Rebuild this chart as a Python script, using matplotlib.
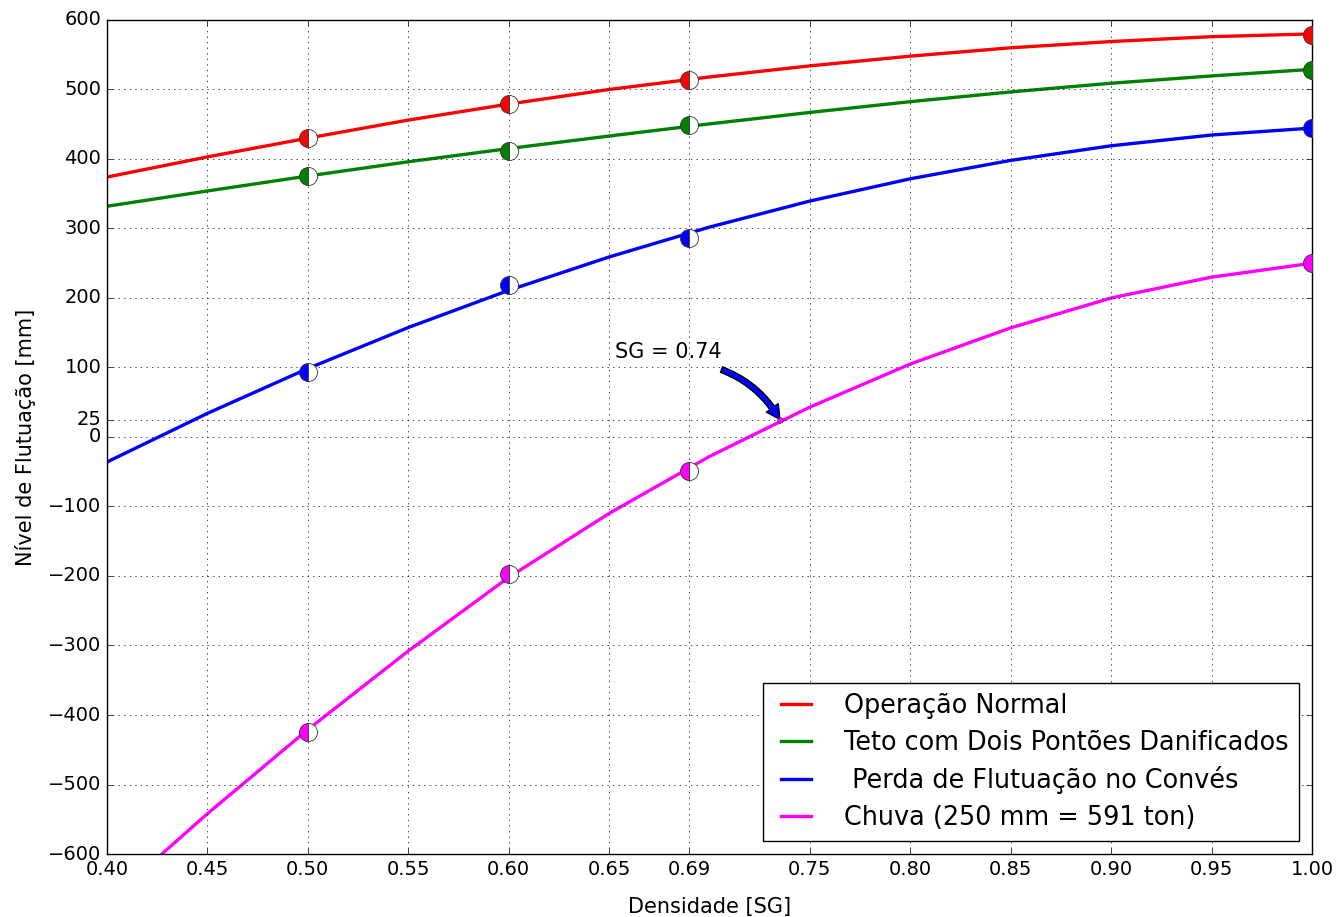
import matplotlib
matplotlib.use('Agg')
import matplotlib.pyplot as plt

# pontos calculados
sg = [0.50, 0.60, 0.69, 1.00]
normal = [430, 479, 513, 579]
dois_pontoes = [376, 412, 449, 528]
perda_conves = [93, 219, 287, 444]
chuva = [-424, -197, -49, 250]

# curvas ajustadas
sg_curva = [0.40, 0.45, 0.50, 0.55, 0.60, 0.65, 0.70, 0.75, 0.80, 0.85, 0.90, 0.95, 1.00]
normal_curva = [374, 403, 430, 456, 479, 500, 518, 534, 548, 560, 569, 576, 580]
dois_pontoes_curva = [332, 354, 375.5, 396, 415, 433, 450.5, 467, 482.5, 496.5, 509, 519.5, 529]
perda_conves_curva = [-36, 34, 98.5, 157.5, 211, 259, 302, 339.5, 371.5, 398, 419, 434.5, 444.5]
chuva_curva = [-670, -542, -421, -308, -202, -110, -28, 43, 105, 157, 200, 230, 250]

# ponto SG = 0.74
sg_zero = 0.735
nivel_zero = 25

legendas = ['Operação Normal', 'Teto com Dois Pontões Danificados',
            ' Perda de Flutuação no Convés', 'Chuva (250 mm = 591 ton)']
cores = ['r', 'g', 'b', '#ff00ff']

xticks = [0.40, 0.45, 0.50, 0.55, 0.60, 0.65, 0.69, 0.75, 0.80, 0.85, 0.90, 0.95, 1.00]
yticks = [-600, -500, -400, -300, -200, -100, 0, 25, 100, 200, 300, 400, 500, 600]

plt.style.use('classic')
plt.rcParams['figure.facecolor'] = 'white'
plt.rcParams['savefig.facecolor'] = 'white'

fig = plt.figure(figsize=(13.39, 9.17), dpi=100)
ax = fig.add_subplot(111)
fig.subplots_adjust(left=0.0799, right=0.9798, top=0.9782, bottom=0.0687)

pontos = [normal, dois_pontoes, perda_conves, chuva]
curvas = [normal_curva, dois_pontoes_curva, perda_conves_curva, chuva_curva]

for curva, cor, nome in zip(curvas, cores, legendas):
    ax.plot(sg_curva, curva, color=cor, lw=2.4, label=nome, zorder=2,
            solid_joinstyle='round')

for p, cor in zip(pontos, cores):
    ax.plot(sg, p, 'o', color=cor, fillstyle='left', markerfacecoloralt='white',
            markeredgecolor='#333333', markeredgewidth=0.6, markersize=13, zorder=3)

ax.plot([sg_zero], [nivel_zero], 'o', color='#ff00ff', markersize=4,
        markeredgecolor='#444444', markeredgewidth=0.5, zorder=4)

ax.text(0.653, 113, 'SG = 0.74', fontsize=15)
ax.annotate('', xy=(sg_zero, nivel_zero), xytext=(0.706, 97),
            arrowprops=dict(facecolor='blue', edgecolor='black', width=4.2,
                            headwidth=10.5, headlength=10, shrink=0.0,
                            connectionstyle='arc3,rad=-0.18'))

ax.set_xlim(0.40, 1.00)
ax.set_ylim(-600, 600)
ax.set_xticks(xticks)
ax.set_xticklabels(['%.2f' % t for t in xticks])
ax.set_yticks(yticks)
ax.tick_params(labelsize=14)
ax.grid(True)

ax.set_xlabel('Densidade [SG]', fontsize=15, labelpad=13)
ax.set_ylabel('Nível de Flutuação [mm]', fontsize=15, labelpad=9)

ax.legend(loc='lower right', fontsize=18.4, handlelength=1.8, handletextpad=1.0,
          labelspacing=0.42)

fig.savefig('out.png', dpi=100)
